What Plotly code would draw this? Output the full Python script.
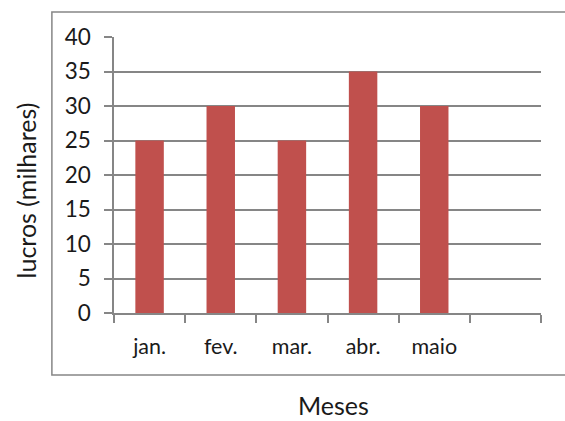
import plotly.graph_objects as go

categories = ["jan.", "fev.", "mar.", "abr.", "maio", " "]
lucros = [25, 30, 25, 35, 30, None]
y_ticks = [0, 5, 10, 15, 20, 25, 30, 35, 40]
x_title = "Meses"
y_title = "lucros (milhares)"

W, H = 565, 421
L, R, T, B = 113.7, 541.3, 37.0, 313.0
pw, ph = R - L, B - T

def px(x):
    return (x - L) / pw

def py(y):
    return (B - y) / ph

FONT = "Lato"

fig = go.Figure()
fig.add_trace(go.Bar(x=categories, y=lucros, marker=dict(color="#C0504D", line=dict(width=0)),
                     width=0.4))

fig.update_layout(
    width=W, height=H,
    margin=dict(l=L, r=W - R, t=T, b=H - B, pad=0),
    paper_bgcolor="white", plot_bgcolor="white",
    showlegend=False,
    font=dict(family=FONT, color="#1a1a1a", size=21),
    xaxis=dict(type="category", categoryorder="array", categoryarray=categories,
               range=[-0.5, 5.5], tickson="boundaries", ticks="outside", ticklen=8,
               tickcolor="#868686", tickwidth=1.5, showline=True, linecolor="#868686",
               linewidth=1.5, showgrid=False, tickfont=dict(size=21.5), ticklabelstandoff=13,
               fixedrange=True),
    yaxis=dict(range=[0, 40], tickvals=y_ticks, ticks="outside", ticklen=8,
               tickcolor="#868686", tickwidth=1.5, showline=True, linecolor="#868686",
               linewidth=1.5, showgrid=True, gridcolor="#868686", gridwidth=1.5,
               zeroline=False, tickfont=dict(size=22.5), ticklabelstandoff=9),
    shapes=[dict(type="rect", xref="paper", yref="paper",
                 x0=px(51.5), x1=px(600), y0=py(375), y1=py(12),
                 line=dict(color="#868686", width=1.5), fillcolor="rgba(0,0,0,0)",
                 layer="below")],
    annotations=[
        dict(text=x_title, xref="paper", yref="paper", x=px(333.5), y=py(420.5),
             showarrow=False, xanchor="center", yanchor="bottom", font=dict(size=25),
             borderpad=0),
        dict(text=y_title, xref="paper", yref="paper", x=px(26), y=py(190),
             showarrow=False, xanchor="center", yanchor="middle", textangle=-90,
             font=dict(size=25)),
    ],
)

fig.write_html("out.html")
